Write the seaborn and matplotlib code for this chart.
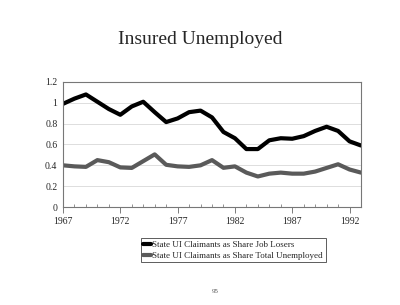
import seaborn as sns
import matplotlib.pyplot as plt
import pandas as pd

# Data
years = list(range(1967, 1994))
job_losers = [0.99, 1.04, 1.08, 1.01, 0.94, 0.885, 0.965, 1.01, 0.91, 0.815,
              0.85, 0.91, 0.925, 0.86, 0.72, 0.66, 0.556, 0.556, 0.64, 0.66,
              0.655, 0.68, 0.73, 0.77, 0.73, 0.63, 0.59]
total_unemployed = [0.40, 0.39, 0.385, 0.45, 0.43, 0.38, 0.375, 0.44, 0.505, 0.405,
                    0.39, 0.385, 0.40, 0.45, 0.376, 0.39, 0.33, 0.293, 0.32, 0.33,
                    0.32, 0.32, 0.34, 0.375, 0.41, 0.36, 0.33]
series_names = ['State UI Claimants as Share Job Losers',
                'State UI Claimants as Share Total Unemployed']
series_colors = ['#000000', '#5a5a5a']

df = pd.DataFrame({
    'year': years * 2,
    'share': job_losers + total_unemployed,
    'series': [series_names[0]] * len(years) + [series_names[1]] * len(years),
})

sns.set_style('white')
plt.rcParams['font.family'] = ['Liberation Serif', 'DejaVu Serif']

fig = plt.figure(figsize=(4, 3.05), dpi=100)
ax = fig.add_axes([0.1575, 0.3213, 0.745, 0.41])

sns.lineplot(data=df, x='year', y='share', hue='series', palette=series_colors,
             linewidth=3, ax=ax, legend=False)

ax.set_xlim(1967, 1993)
ax.set_ylim(0, 1.2)
ax.set_yticks([0, 0.2, 0.4, 0.6, 0.8, 1.0, 1.2])
ax.set_yticklabels(['0', '0.2', '0.4', '0.6', '0.8', '1', '1.2'])
ax.set_xticks([1967, 1972, 1977, 1982, 1987, 1992])
ax.set_xticks(years, minor=True)
ax.set_xlabel('')
ax.set_ylabel('')
ax.tick_params(axis='both', labelsize=7)
ax.tick_params(axis='x', which='major', direction='out', length=4, width=0.6, color='#666666', bottom=True)
ax.tick_params(axis='x', which='minor', direction='in', length=2, width=0.5, color='#666666', bottom=True)
ax.tick_params(axis='y', length=0, pad=4)
ax.grid(axis='y', color='#d8d8d8', linewidth=0.6)
ax.set_axisbelow(True)
for sp in ax.spines.values():
    sp.set_color('#777777')
    sp.set_linewidth(0.8)

fig.text(0.5, 0.87, 'Insured Unemployed', ha='center', va='center', fontsize=14)

handles = [plt.Line2D([], [], color=c, linewidth=3) for c in series_colors]
leg = fig.legend(handles, series_names, loc='center', bbox_to_anchor=(0.583, 0.18),
                 fontsize=6.5, frameon=True, fancybox=False, handlelength=0.8,
                 handletextpad=0.2, borderpad=0.3, labelspacing=0.3)
leg.get_frame().set_edgecolor('#333333')
leg.get_frame().set_linewidth(0.7)

fig.text(0.537, 0.045, '95', ha='center', va='center', fontsize=5, color='#555555')

fig.savefig('out.png', dpi=100)
